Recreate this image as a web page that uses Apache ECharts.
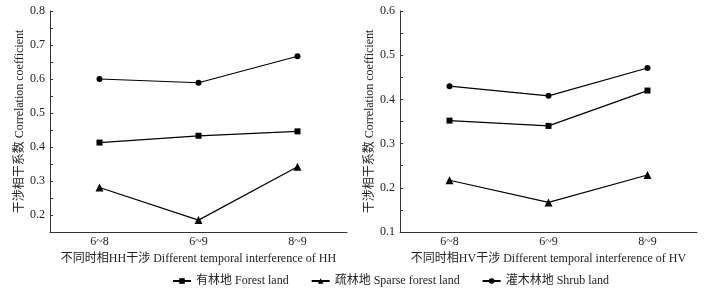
<!DOCTYPE html>
<html><head><meta charset="utf-8">
<script src="https://cdn.jsdelivr.net/npm/echarts@6/dist/echarts.min.js"></script>
<style>html,body{margin:0;padding:0;background:#fff}#c{width:705px;height:289px}</style>
</head><body><div id="c"></div>
<script>
var categories = ['6~8', '6~9', '8~9'];
var seriesNames = ['有林地 Forest land', '疏林地 Sparse forest land', '灌木林地 Shrub land'];
var hhForest = [0.413, 0.433, 0.446];
var hhSparse = [0.281, 0.185, 0.342];
var hhShrub = [0.600, 0.589, 0.667];
var hvForest = [0.352, 0.340, 0.420];
var hvSparse = [0.217, 0.167, 0.229];
var hvShrub = [0.430, 0.408, 0.471];
var xNameHH = '不同时相HH干涉 Different temporal interference of HH';
var xNameHV = '不同时相HV干涉 Different temporal interference of HV';
var yName = '干涉相干系数 Correlation coefficient';

var FONT = '"Liberation Serif", "Noto Sans CJK SC", serif';
var AX = '#333';
var TX = '#222';
var chart = echarts.init(document.getElementById('c'));
var grids = [
  {left: 50, top: 11, width: 297, height: 221},
  {left: 400, top: 11, width: 297, height: 221}
];
function xAxes(gi, name) {
  return [{
    type: 'category', gridIndex: gi, data: categories, boundaryGap: true,
    axisLine: {lineStyle: {color: AX, width: 1}},
    axisTick: {alignWithLabel: true, inside: true, length: 4, lineStyle: {color: AX}},
    axisLabel: {color: TX, fontFamily: FONT, fontSize: 12, margin: 4},
    name: name, nameLocation: 'middle', nameGap: 20,
    nameTextStyle: {color: TX, fontFamily: FONT, fontSize: 12}
  }, {
    type: 'category', gridIndex: gi, data: categories, boundaryGap: true, position: 'bottom',
    axisLine: {show: false},
    axisTick: {inside: true, length: 3, lineStyle: {color: AX}},
    axisLabel: {show: false}
  }];
}
function yAxis(gi, min, max, interval) {
  return {
    type: 'value', gridIndex: gi, min: min, max: max, interval: interval,
    splitLine: {show: false},
    axisLine: {show: true, lineStyle: {color: AX, width: 1}},
    axisTick: {show: true, inside: true, length: 3, lineStyle: {color: AX}},
    axisLabel: {color: TX, fontFamily: FONT, fontSize: 12, margin: 5,
      formatter: function (v) {
        var t = v * 10;
        return Math.abs(t - Math.round(t)) < 1e-6 ? v.toFixed(1) : '';
      }},
    name: yName, nameLocation: 'middle', nameGap: 24, nameRotate: 90,
    nameTextStyle: {color: TX, fontFamily: FONT, fontSize: 12}
  };
}
function mk(name, data, xi, yi, symbol, size) {
  return {
    name: name, type: 'line', xAxisIndex: xi, yAxisIndex: yi, data: data,
    symbol: symbol, symbolSize: size, color: '#000',
    lineStyle: {color: '#000', width: 1.2}, itemStyle: {color: '#000'},
    animation: false
  };
}
chart.setOption({
  backgroundColor: '#fff',
  animation: false,
  grid: grids,
  xAxis: xAxes(0, xNameHH).concat(xAxes(1, xNameHV)),
  yAxis: [yAxis(0, 0.15, 0.8, 0.05), yAxis(1, 0.1, 0.6, 0.05)],
  legend: {
    left: 167, top: 270, itemGap: 22, itemWidth: 18, itemHeight: 7,
    textStyle: {color: TX, fontFamily: FONT, fontSize: 12},
    data: seriesNames
  },
  series: [
    mk(seriesNames[0], hhForest, 0, 0, 'rect', 6),
    mk(seriesNames[1], hhSparse, 0, 0, 'triangle', 8),
    mk(seriesNames[2], hhShrub, 0, 0, 'circle', 6),
    mk(seriesNames[0], hvForest, 2, 1, 'rect', 6),
    mk(seriesNames[1], hvSparse, 2, 1, 'triangle', 8),
    mk(seriesNames[2], hvShrub, 2, 1, 'circle', 6)
  ]
});
</script></body></html>
